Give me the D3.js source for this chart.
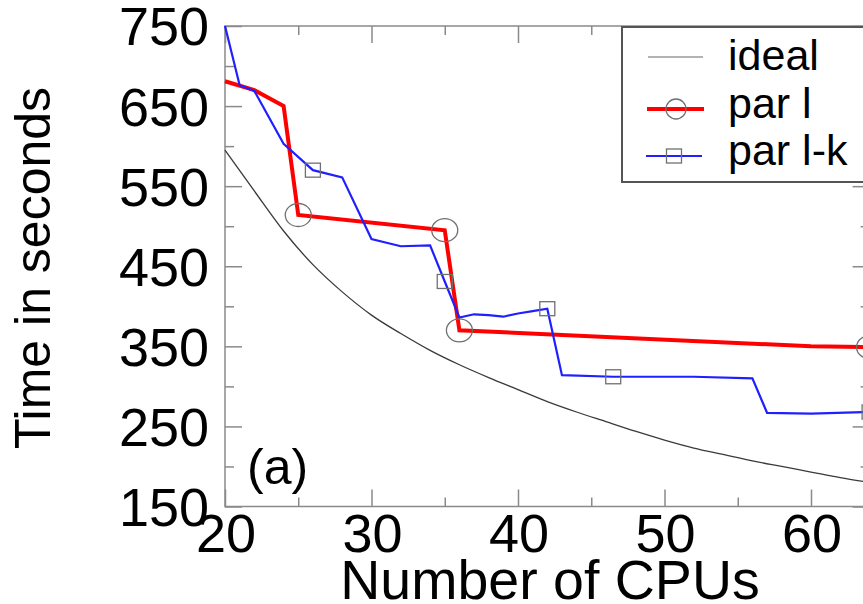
<!DOCTYPE html>
<html>
<head>
<meta charset="utf-8">
<script src="https://cdn.jsdelivr.net/npm/d3@7"></script>
<style>
  html, body { margin: 0; padding: 0; background: #fff; }
  svg { display: block; }
  text { font-family: "Liberation Sans", Arial, Helvetica, sans-serif; fill: #000; }
</style>
</head>
<body>
<svg id="chart" width="863" height="604"></svg>
<script>
// Run time versus number of CPUs
const idealX = [20, 22, 24, 26, 28, 30, 32, 34, 36, 38, 40, 42, 44, 46, 48, 50, 52, 54, 56, 58, 60, 62, 64];
const idealY = [595, 544, 494, 452, 418, 389, 366, 345, 327, 311, 296, 281, 268, 256, 244, 233, 223, 215, 207, 200, 193, 186, 180];

const parLX = [20, 22, 24, 25, 35, 36, 60, 64];
const parLY = [681, 670, 650, 514, 495, 370, 350, 349];
const parLMarkX = [25, 35, 36, 64];

const parLkX = [20, 21, 22, 24, 26, 28, 30, 32, 34, 35, 36, 37, 38, 39, 40, 41, 42, 43, 46.5, 48, 52, 56, 57, 60, 64];
const parLkY = [750, 676, 669, 603, 570, 561, 484, 475, 476, 431, 386, 390, 389, 387, 391, 394, 397, 314, 312, 312, 312, 310, 267, 266, 268];
const parLkMarkX = [26, 35, 42, 46.5, 64];

const xMajor = [20, 30, 40, 50, 60];
const xMinor = [25, 35, 45, 55];
const yMajor = [150, 250, 350, 450, 550, 650, 750];
const yMinor = [200, 300, 400, 500, 600, 700];

const legendLabels = ["ideal", "par l", "par l-k"];

const svg = d3.select("#chart");
const plotLeft = 225, plotRight = 869.6, plotTop = 26, plotBottom = 506.5;

const x = d3.scaleLinear().domain([20, 64]).range([plotLeft, plotRight]);
const y = d3.scaleLinear().domain([150, 750]).range([plotBottom, plotTop]);

const frameColor = "#8a8a8a";

// inward ticks on all four sides
function tickAxis(axisFn, scale, values, size, pos, isX) {
  const g = svg.append("g")
    .attr("transform", isX ? `translate(0,${pos})` : `translate(${pos},0)`)
    .call(axisFn(scale).tickValues(values).tickSize(size).tickFormat(""));
  g.select(".domain").remove();
  g.selectAll(".tick line").attr("stroke", frameColor).attr("stroke-width", 1.5);
  return g;
}
tickAxis(d3.axisBottom, x, xMajor, -17, plotBottom, true);
tickAxis(d3.axisBottom, x, xMinor, -9, plotBottom, true);
tickAxis(d3.axisTop, x, xMajor, -17, plotTop, true);
tickAxis(d3.axisTop, x, xMinor, -9, plotTop, true);
tickAxis(d3.axisLeft, y, yMajor, -17, plotLeft, false);
tickAxis(d3.axisLeft, y, yMinor, -9, plotLeft, false);
tickAxis(d3.axisRight, y, yMajor, -17, plotRight, false);
tickAxis(d3.axisRight, y, yMinor, -9, plotRight, false);

svg.append("rect")
  .attr("x", plotLeft).attr("y", plotTop)
  .attr("width", plotRight - plotLeft).attr("height", plotBottom - plotTop)
  .attr("fill", "none").attr("stroke", frameColor).attr("stroke-width", 1.5);

// tick labels
svg.append("g").selectAll("text").data(yMajor).join("text")
  .attr("x", 209).attr("y", d => y(d))
  .attr("dy", "0.36em")
  .attr("text-anchor", "end")
  .attr("font-size", 54)
  .text(d => d);

svg.append("g").selectAll("text").data(xMajor).join("text")
  .attr("x", d => x(d) + 1).attr("y", 552)
  .attr("text-anchor", "middle")
  .attr("font-size", 54)
  .text(d => d);

// axis titles
svg.append("text")
  .attr("x", 550).attr("y", 599)
  .attr("text-anchor", "middle")
  .attr("font-size", 55.5)
  .text("Number of CPUs");

svg.append("text")
  .attr("transform", "translate(50,268) rotate(-90)")
  .attr("text-anchor", "middle")
  .attr("font-size", 50)
  .text("Time in seconds");

svg.append("text")
  .attr("x", 247).attr("y", 484)
  .attr("font-size", 50)
  .text("(a)");

// series
const line = d3.line().x(d => x(d[0])).y(d => y(d[1]));
const smoothLine = d3.line().x(d => x(d[0])).y(d => y(d[1])).curve(d3.curveMonotoneX);
const idealPts = d3.zip(idealX, idealY);
const parLPts = d3.zip(parLX, parLY);
const parLkPts = d3.zip(parLkX, parLkY);

svg.append("path").datum(idealPts).attr("d", smoothLine)
  .attr("fill", "none").attr("stroke", "#3a3a3a").attr("stroke-width", 1.3);

svg.append("path").datum(parLPts).attr("d", line)
  .attr("fill", "none").attr("stroke", "#ff0000").attr("stroke-width", 4)
  .attr("stroke-linejoin", "miter");

svg.append("path").datum(parLkPts).attr("d", line)
  .attr("fill", "none").attr("stroke", "#2020ff").attr("stroke-width", 2.2);

const markColor = "#707070";
const lookup = (xs, ys, v) => ys[xs.indexOf(v)];

svg.append("g").selectAll("ellipse").data(parLMarkX).join("ellipse")
  .attr("cx", d => x(d)).attr("cy", d => y(lookup(parLX, parLY, d)))
  .attr("rx", 13).attr("ry", 11.5)
  .attr("fill", "none").attr("stroke", markColor).attr("stroke-width", 1.3);

svg.append("g").selectAll("rect").data(parLkMarkX).join("rect")
  .attr("x", d => x(d) - 7.5).attr("y", d => y(lookup(parLkX, parLkY, d)) - 7)
  .attr("width", 15).attr("height", 14)
  .attr("fill", "none").attr("stroke", markColor).attr("stroke-width", 1.3);

// legend
const lg = svg.append("g");
lg.append("rect")
  .attr("x", 622).attr("y", 27)
  .attr("width", 260).attr("height", 155)
  .attr("fill", "#fff").attr("stroke", "#555").attr("stroke-width", 2);

const rowY = [57, 109, 156];
const baseY = [70, 118, 165];
lg.append("line").attr("x1", 648).attr("x2", 703).attr("y1", rowY[0]).attr("y2", rowY[0])
  .attr("stroke", "#9a9a9a").attr("stroke-width", 1.3);
lg.append("line").attr("x1", 647).attr("x2", 704).attr("y1", rowY[1]).attr("y2", rowY[1])
  .attr("stroke", "#ff0000").attr("stroke-width", 4);
lg.append("circle").attr("cx", 676).attr("cy", rowY[1]).attr("r", 10)
  .attr("fill", "none").attr("stroke", markColor).attr("stroke-width", 1.3);
lg.append("line").attr("x1", 646).attr("x2", 702).attr("y1", rowY[2]).attr("y2", rowY[2])
  .attr("stroke", "#2020ff").attr("stroke-width", 2.2);
lg.append("rect").attr("x", 666.5).attr("y", rowY[2] - 7).attr("width", 15).attr("height", 14)
  .attr("fill", "none").attr("stroke", markColor).attr("stroke-width", 1.3);

lg.selectAll("text.lab").data(legendLabels).join("text")
  .attr("class", "lab")
  .attr("x", 728).attr("y", (d, i) => baseY[i])
  .attr("font-size", 43)
  .text(d => d);
</script>
</body>
</html>
